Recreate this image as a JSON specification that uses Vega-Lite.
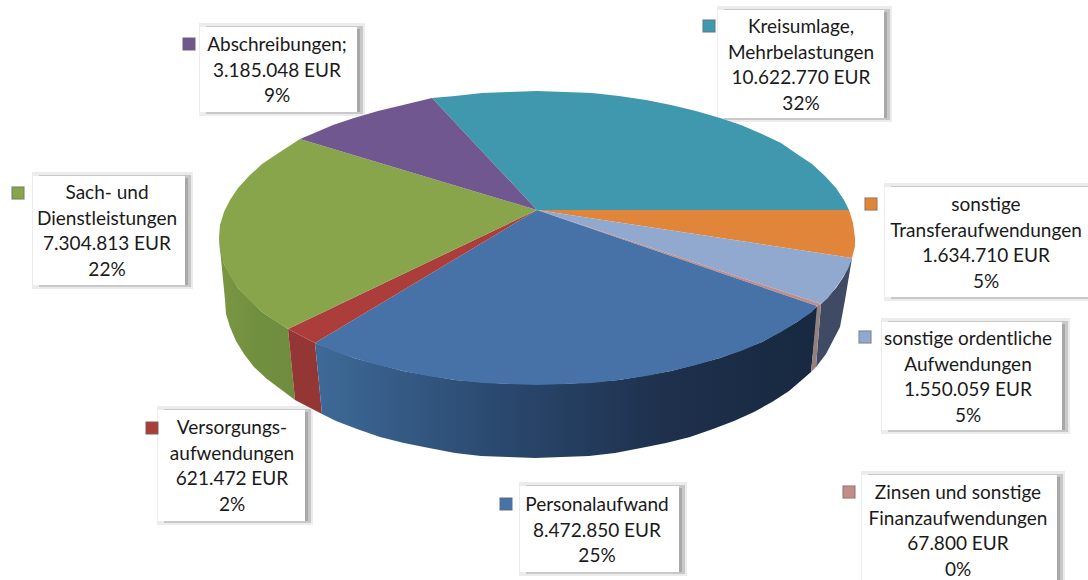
{"$schema":"https://vega.github.io/schema/vega-lite/v6.json","width":1088,"height":580,"padding":0,"autosize":{"type":"none"},"background":"#ffffff","config":{"view":{"stroke":null}},
"datasets":{
"boxes":[{"s":"Kreisumlage","x":718,"x2":884,"y":10,"y2":118},{"s":"Abschreibungen","x":200,"x2":357,"y":27,"y2":112},{"s":"Sach","x":33,"x2":185,"y":176,"y2":285},{"s":"Transfer","x":885,"x2":1088,"y":187,"y2":297},{"s":"Ordentlich","x":882,"x2":1062,"y":322,"y2":430},{"s":"Versorgung","x":158,"x2":305,"y":410,"y2":521},{"s":"Personal","x":520,"x2":679,"y":486,"y2":572},{"s":"Zinsen","x":862,"x2":1057,"y":475,"y2":580}],
"labels":[{"s":"Kreisumlage","value":10622770,"share":32,"text":"Kreisumlage,\nMehrbelastungen\n10.622.770 EUR\n32%","x":801,"y":27,"kx":709,"ky":26},{"s":"Abschreibungen","value":3185048,"share":9,"text":"Abschreibungen;\n3.185.048 EUR\n9%","x":277,"y":45,"kx":189,"ky":44},{"s":"Sach","value":7304813,"share":22,"text":"Sach- und\nDienstleistungen\n7.304.813 EUR\n22%","x":107,"y":193,"kx":18,"ky":193},{"s":"Transfer","value":1634710,"share":5,"text":"sonstige\nTransferaufwendungen\n1.634.710 EUR\n5%","x":986,"y":205,"kx":871,"ky":204},{"s":"Ordentlich","value":1550059,"share":5,"text":"sonstige ordentliche\nAufwendungen\n1.550.059 EUR\n5%","x":968,"y":339,"kx":865,"ky":337},{"s":"Versorgung","value":621472,"share":2,"text":"Versorgungs-\naufwendungen\n621.472 EUR\n2%","x":232,"y":428,"kx":152,"ky":428},{"s":"Personal","value":8472850,"share":25,"text":"Personalaufwand\n8.472.850 EUR\n25%","x":597,"y":505,"kx":506,"ky":504},{"s":"Zinsen","value":67800,"share":0,"text":"Zinsen und sonstige\nFinanzaufwendungen\n67.800 EUR\n0%","x":958,"y":493,"kx":849,"ky":492}],
"sides":[
{"s":"green","i":1,"x":219,"y":238},{"s":"green","i":2,"x":224,"y":264},{"s":"green","i":3,"x":238,"y":288},{"s":"green","i":4,"x":262,"y":312},{"s":"green","i":5,"x":288,"y":329},{"s":"green","i":6,"x":295,"y":400},{"s":"green","i":7,"x":267,"y":379},{"s":"green","i":8,"x":254,"y":367},{"s":"green","i":9,"x":244,"y":354},{"s":"green","i":10,"x":236,"y":341},{"s":"green","i":11,"x":230,"y":327},{"s":"green","i":12,"x":226,"y":314},{"s":"green","i":13,"x":225,"y":300},
{"s":"red","i":1,"x":288,"y":329},{"s":"red","i":2,"x":315,"y":343},{"s":"red","i":3,"x":322,"y":414},{"s":"red","i":4,"x":295,"y":400},
{"s":"blue","i":1,"x":315,"y":343},{"s":"blue","i":2,"x":354,"y":358},{"s":"blue","i":3,"x":403,"y":371},{"s":"blue","i":4,"x":455,"y":380},{"s":"blue","i":5,"x":509,"y":384},{"s":"blue","i":6,"x":565,"y":384},{"s":"blue","i":7,"x":619,"y":380},{"s":"blue","i":8,"x":671,"y":371},{"s":"blue","i":9,"x":720,"y":358},{"s":"blue","i":10,"x":762,"y":342},{"s":"blue","i":11,"x":797,"y":322},{"s":"blue","i":12,"x":818,"y":306},{"s":"blue","i":13,"x":811,"y":372},{"s":"blue","i":14,"x":803,"y":379},{"s":"blue","i":15,"x":789,"y":391},{"s":"blue","i":16,"x":772,"y":402},{"s":"blue","i":17,"x":754,"y":412},{"s":"blue","i":18,"x":734,"y":421},{"s":"blue","i":19,"x":713,"y":429},{"s":"blue","i":20,"x":690,"y":437},{"s":"blue","i":21,"x":666,"y":443},{"s":"blue","i":22,"x":641,"y":448},{"s":"blue","i":23,"x":615,"y":453},{"s":"blue","i":24,"x":589,"y":456},{"s":"blue","i":25,"x":562,"y":457},{"s":"blue","i":26,"x":535,"y":458},{"s":"blue","i":27,"x":508,"y":457},{"s":"blue","i":28,"x":481,"y":456},{"s":"blue","i":29,"x":455,"y":453},{"s":"blue","i":30,"x":429,"y":448},{"s":"blue","i":31,"x":404,"y":443},{"s":"blue","i":32,"x":380,"y":437},{"s":"blue","i":33,"x":357,"y":429},{"s":"blue","i":34,"x":336,"y":421},{"s":"blue","i":35,"x":322,"y":414},
{"s":"pink","i":1,"x":817,"y":306},{"s":"pink","i":2,"x":821,"y":304},{"s":"pink","i":3,"x":816,"y":367},{"s":"pink","i":4,"x":811,"y":372},
{"s":"slate","i":1,"x":821,"y":304},{"s":"slate","i":2,"x":836,"y":288},{"s":"slate","i":3,"x":844,"y":276},{"s":"slate","i":4,"x":852,"y":258},{"s":"slate","i":5,"x":845,"y":300},{"s":"slate","i":6,"x":840,"y":327},{"s":"slate","i":7,"x":826,"y":354},{"s":"slate","i":8,"x":816,"y":367}],
"tops":[
{"s":"Kreisumlage","i":0,"x":537,"y":210},{"s":"Kreisumlage","i":1,"x":432,"y":98},{"s":"Kreisumlage","i":2,"x":455,"y":96},{"s":"Kreisumlage","i":3,"x":482,"y":93},{"s":"Kreisumlage","i":4,"x":509,"y":92},{"s":"Kreisumlage","i":5,"x":537,"y":91},{"s":"Kreisumlage","i":6,"x":565,"y":92},{"s":"Kreisumlage","i":7,"x":592,"y":93},{"s":"Kreisumlage","i":8,"x":619,"y":96},{"s":"Kreisumlage","i":9,"x":646,"y":100},{"s":"Kreisumlage","i":10,"x":671,"y":105},{"s":"Kreisumlage","i":11,"x":696,"y":111},{"s":"Kreisumlage","i":12,"x":720,"y":118},{"s":"Kreisumlage","i":13,"x":741,"y":125},{"s":"Kreisumlage","i":14,"x":762,"y":134},{"s":"Kreisumlage","i":15,"x":781,"y":143},{"s":"Kreisumlage","i":16,"x":797,"y":154},{"s":"Kreisumlage","i":17,"x":812,"y":164},{"s":"Kreisumlage","i":18,"x":825,"y":176},{"s":"Kreisumlage","i":19,"x":836,"y":188},{"s":"Kreisumlage","i":20,"x":844,"y":200},{"s":"Kreisumlage","i":21,"x":849,"y":210},
{"s":"Transfer","i":0,"x":537,"y":210},{"s":"Transfer","i":1,"x":849,"y":210},{"s":"Transfer","i":2,"x":853,"y":223},{"s":"Transfer","i":3,"x":855,"y":238},{"s":"Transfer","i":4,"x":855,"y":246},{"s":"Transfer","i":5,"x":852,"y":258},
{"s":"Ordentlich","i":0,"x":537,"y":210},{"s":"Ordentlich","i":1,"x":852,"y":258},{"s":"Ordentlich","i":2,"x":848,"y":269},{"s":"Ordentlich","i":3,"x":839,"y":283},{"s":"Ordentlich","i":4,"x":828,"y":298},{"s":"Ordentlich","i":5,"x":821,"y":304},
{"s":"Zinsen","i":0,"x":537,"y":210},{"s":"Zinsen","i":1,"x":821,"y":304},{"s":"Zinsen","i":2,"x":817,"y":306},
{"s":"Personal","i":0,"x":537,"y":210},{"s":"Personal","i":1,"x":817,"y":306},{"s":"Personal","i":2,"x":812,"y":312},{"s":"Personal","i":3,"x":797,"y":322},{"s":"Personal","i":4,"x":781,"y":332},{"s":"Personal","i":5,"x":762,"y":342},{"s":"Personal","i":6,"x":741,"y":351},{"s":"Personal","i":7,"x":720,"y":358},{"s":"Personal","i":8,"x":696,"y":365},{"s":"Personal","i":9,"x":671,"y":371},{"s":"Personal","i":10,"x":646,"y":376},{"s":"Personal","i":11,"x":619,"y":380},{"s":"Personal","i":12,"x":592,"y":383},{"s":"Personal","i":13,"x":565,"y":384},{"s":"Personal","i":14,"x":537,"y":385},{"s":"Personal","i":15,"x":509,"y":384},{"s":"Personal","i":16,"x":482,"y":383},{"s":"Personal","i":17,"x":455,"y":380},{"s":"Personal","i":18,"x":428,"y":376},{"s":"Personal","i":19,"x":403,"y":371},{"s":"Personal","i":20,"x":378,"y":365},{"s":"Personal","i":21,"x":354,"y":358},{"s":"Personal","i":22,"x":333,"y":351},{"s":"Personal","i":23,"x":315,"y":343},
{"s":"Versorgung","i":0,"x":537,"y":210},{"s":"Versorgung","i":1,"x":315,"y":343},{"s":"Versorgung","i":2,"x":288,"y":329},
{"s":"Sach","i":0,"x":537,"y":210},{"s":"Sach","i":1,"x":288,"y":329},{"s":"Sach","i":2,"x":277,"y":322},{"s":"Sach","i":3,"x":262,"y":312},{"s":"Sach","i":4,"x":249,"y":300},{"s":"Sach","i":5,"x":238,"y":288},{"s":"Sach","i":6,"x":230,"y":276},{"s":"Sach","i":7,"x":224,"y":264},{"s":"Sach","i":8,"x":220,"y":251},{"s":"Sach","i":9,"x":219,"y":238},{"s":"Sach","i":10,"x":220,"y":225},{"s":"Sach","i":11,"x":224,"y":212},{"s":"Sach","i":12,"x":230,"y":200},{"s":"Sach","i":13,"x":238,"y":188},{"s":"Sach","i":14,"x":249,"y":176},{"s":"Sach","i":15,"x":262,"y":164},{"s":"Sach","i":16,"x":277,"y":154},{"s":"Sach","i":17,"x":300,"y":139},
{"s":"Abschreibungen","i":0,"x":537,"y":210},{"s":"Abschreibungen","i":1,"x":300,"y":139},{"s":"Abschreibungen","i":2,"x":312,"y":134},{"s":"Abschreibungen","i":3,"x":333,"y":125},{"s":"Abschreibungen","i":4,"x":354,"y":118},{"s":"Abschreibungen","i":5,"x":378,"y":111},{"s":"Abschreibungen","i":6,"x":403,"y":105},{"s":"Abschreibungen","i":7,"x":432,"y":98}]
},
"layer":[
{"data":{"name":"boxes"},"mark":{"type":"rect","fill":"#e4e4e4","opacity":0.7,"xOffset":-1,"x2Offset":8,"yOffset":-4,"y2Offset":4},"encoding":{"x":{"field":"x","type":"quantitative","scale":{"domain":[0,1088],"nice":false,"zero":false},"axis":null},"x2":{"field":"x2"},"y":{"field":"y","type":"quantitative","scale":{"domain":[580,0],"nice":false,"zero":false},"axis":null},"y2":{"field":"y2"}}},
{"data":{"name":"boxes"},"mark":{"type":"rect","fill":"#c8c8c8","xOffset":6,"x2Offset":6,"yOffset":-1,"y2Offset":2},"encoding":{"x":{"field":"x","type":"quantitative"},"x2":{"field":"x2"},"y":{"field":"y","type":"quantitative"},"y2":{"field":"y2"}}},
{"data":{"name":"boxes"},"mark":{"type":"rect","fill":"#a8a8a8","xOffset":6,"x2Offset":3,"yOffset":2,"y2Offset":0},"encoding":{"x":{"field":"x","type":"quantitative"},"x2":{"field":"x2"},"y":{"field":"y","type":"quantitative"},"y2":{"field":"y2"}}},
{"data":{"name":"boxes"},"mark":{"type":"rect","fill":"#ffffff"},"encoding":{"x":{"field":"x","type":"quantitative"},"x2":{"field":"x2"},"y":{"field":"y","type":"quantitative"},"y2":{"field":"y2"}}},
{"data":{"name":"sides"},"transform":[{"filter":"datum.s==='green'"}],"mark":{"type":"line","filled":true,"strokeWidth":0,"fill":{"gradient":"linear","x1":0,"x2":1,"y1":0,"y2":0,"stops":[{"offset":0,"color":"#7b9643"},{"offset":0.5,"color":"#71903f"},{"offset":1,"color":"#6f8c3e"}]}},"encoding":{"x":{"field":"x","type":"quantitative"},"y":{"field":"y","type":"quantitative"},"order":{"field":"i","type":"quantitative"}}},
{"data":{"name":"sides"},"transform":[{"filter":"datum.s==='red'"}],"mark":{"type":"line","filled":true,"strokeWidth":0,"fill":"#943634"},"encoding":{"x":{"field":"x","type":"quantitative"},"y":{"field":"y","type":"quantitative"},"order":{"field":"i","type":"quantitative"}}},
{"data":{"name":"sides"},"transform":[{"filter":"datum.s==='blue'"}],"mark":{"type":"line","filled":true,"strokeWidth":0,"fill":{"gradient":"linear","x1":0,"x2":1,"y1":0,"y2":0,"stops":[{"offset":0,"color":"#3e6a98"},{"offset":0.35,"color":"#2b4a70"},{"offset":0.7,"color":"#1e304c"},{"offset":1,"color":"#172840"}]}},"encoding":{"x":{"field":"x","type":"quantitative"},"y":{"field":"y","type":"quantitative"},"order":{"field":"i","type":"quantitative"}}},
{"data":{"name":"sides"},"transform":[{"filter":"datum.s==='slate'"}],"mark":{"type":"line","filled":true,"strokeWidth":0,"fill":"#3f4b64"},"encoding":{"x":{"field":"x","type":"quantitative"},"y":{"field":"y","type":"quantitative"},"order":{"field":"i","type":"quantitative"}}},
{"data":{"name":"sides"},"transform":[{"filter":"datum.s==='pink'"}],"mark":{"type":"line","filled":true,"strokeWidth":0,"fill":"#94817f"},"encoding":{"x":{"field":"x","type":"quantitative"},"y":{"field":"y","type":"quantitative"},"order":{"field":"i","type":"quantitative"}}},
{"data":{"name":"tops"},"mark":{"type":"line","filled":true,"strokeWidth":0.5},"encoding":{"x":{"field":"x","type":"quantitative"},"y":{"field":"y","type":"quantitative"},"order":{"field":"i","type":"quantitative"},"color":{"field":"s","type":"nominal","legend":null,"scale":{"domain":["Kreisumlage","Transfer","Ordentlich","Zinsen","Personal","Versorgung","Sach","Abschreibungen"],"range":["#4098ae","#e0853a","#92a9cf","#c48c88","#4672a8","#ab3d3b","#89a54b","#71578f"]}}}},
{"data":{"name":"labels"},"mark":{"type":"point","shape":"square","filled":true,"size":150,"stroke":"#666666","strokeOpacity":0.55,"strokeWidth":1.2,"opacity":1},"encoding":{"x":{"field":"kx","type":"quantitative"},"y":{"field":"ky","type":"quantitative"},"color":{"field":"s","type":"nominal","legend":null}}},
{"data":{"name":"labels"},"mark":{"type":"text","font":"Lato","fontSize":19,"lineHeight":25.5,"lineBreak":"\n","align":"center","baseline":"middle","color":"#1a1a1a"},"encoding":{"x":{"field":"x","type":"quantitative"},"y":{"field":"y","type":"quantitative"},"text":{"field":"text","type":"nominal"}}}
]}
